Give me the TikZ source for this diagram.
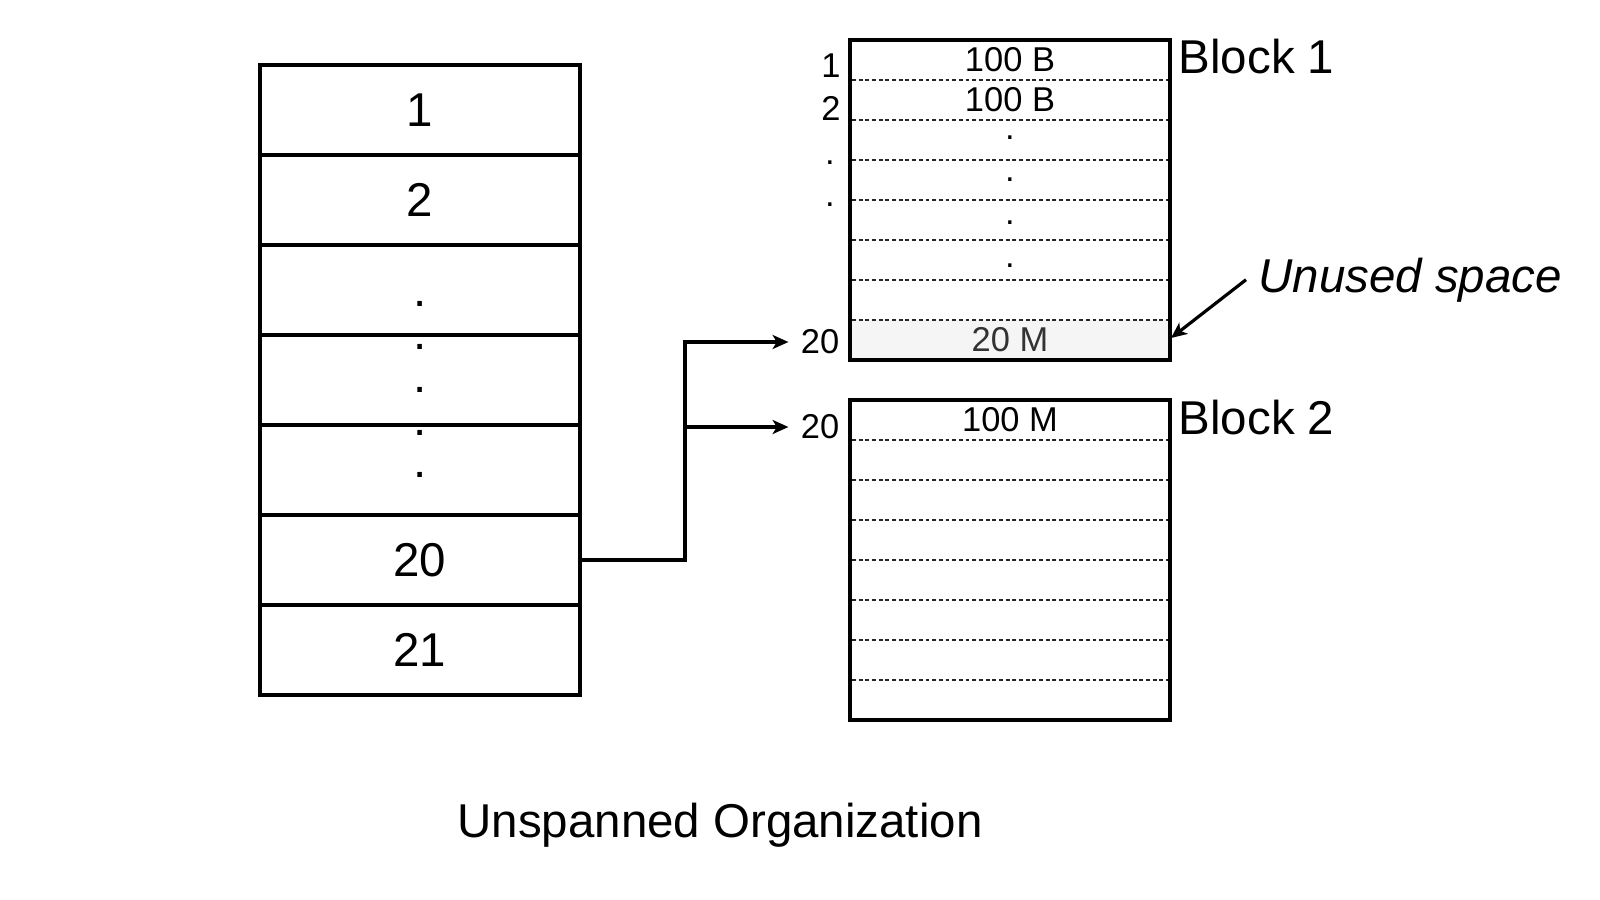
\documentclass[tikz,border=0pt]{standalone}
\usepackage{fontspec}
\setmainfont{Liberation Sans}
\usetikzlibrary{arrows.meta}

\tikzset{
  bigtext/.style={font=\fontsize{13.5}{16}\selectfont},
  smalltext/.style={font=\fontsize{9.8}{12}\selectfont},
  dottext/.style={anchor=base, inner sep=0pt},
  rowcell/.style={draw, line width=0.95pt, minimum width=3.2cm, minimum height=0.9cm, inner sep=0pt, bigtext},
  blockbox/.style={draw, line width=0.95pt, minimum width=3.2cm, minimum height=3.2cm, inner sep=0pt},
  slotline/.style={line width=0.3pt, draw=black!85, dash pattern=on 1.1pt off 0.8pt},
  link/.style={line width=0.9pt, -{Stealth[length=4.5pt,width=4pt,inset=1.2pt]}},
}

\begin{document}
\begin{tikzpicture}[x=0.01cm, y=-0.01cm]
  \useasboundingbox (0,0) rectangle (1600,900);

  \node[rowcell] (r1) at (420,110) {1};
  \node[rowcell] (r2) at (420,200) {2};
  \node[rowcell] (r3) at (420,290) {};
  \node[rowcell] (r4) at (420,380) {};
  \node[rowcell] (r5) at (420,470) {};
  \node[rowcell] (r20) at (420,560) {20};
  \node[rowcell] (r21) at (420,650) {21};
  \foreach \y [count=\i] in {306,349,392,435,477}
    \node[bigtext, dottext] (rdot\i) at (420,\y) {.};

  \fill[black!4] (850,320) rectangle (1170,360);
  \node[blockbox] (blk1) at (1010,200) {};
  \foreach \y in {80,120,...,320}
    \draw[slotline] (852,\y) -- (1168,\y);

  \node[blockbox] (blk2) at (1010,560) {};
  \foreach \y in {440,480,...,680}
    \draw[slotline] (852,\y) -- (1168,\y);

  \node[smalltext] (b1r1) at (1010,60) {100 B};
  \node[smalltext] (b1r2) at (1010,100) {100 B};
  \foreach \y [count=\i] in {139,181,224,267}
    \node[smalltext, dottext] (bdot\i) at (1010,\y) {.};
  \node[smalltext, text=black!80] (b1last) at (1010,340) {20 M};
  \node[smalltext] (b2r1) at (1010,420) {100 M};

  \node[smalltext] (n1) at (831,66) {1};
  \node[smalltext] (n2) at (831,108) {2};
  \node[smalltext, dottext] (ndot1) at (830,164) {.};
  \node[smalltext, dottext] (ndot2) at (830,206) {.};
  \node[smalltext] (in1) at (820,342) {20};
  \node[smalltext] (in2) at (820,427) {20};

  \node[bigtext, anchor=base west, inner sep=0pt] (t1) at (1178,73) {Block 1};
  \node[bigtext, anchor=base west, inner sep=0pt] (t2) at (1178,434) {Block 2};

  \node[bigtext, anchor=base west] (unused) at (1246,292) {\itshape Unused space};
  \coordinate (gap) at (1171,338);
  \draw[link] (unused.west) -- (gap);

  \coordinate (split) at (685,560);
  \draw[link] (r20.east) -- (split) |- (in1.west);
  \draw[link] (split) |- (in2.west);

  \node[bigtext, anchor=base] (title) at (720,837) {Unspanned Organization};
\end{tikzpicture}
\end{document}
